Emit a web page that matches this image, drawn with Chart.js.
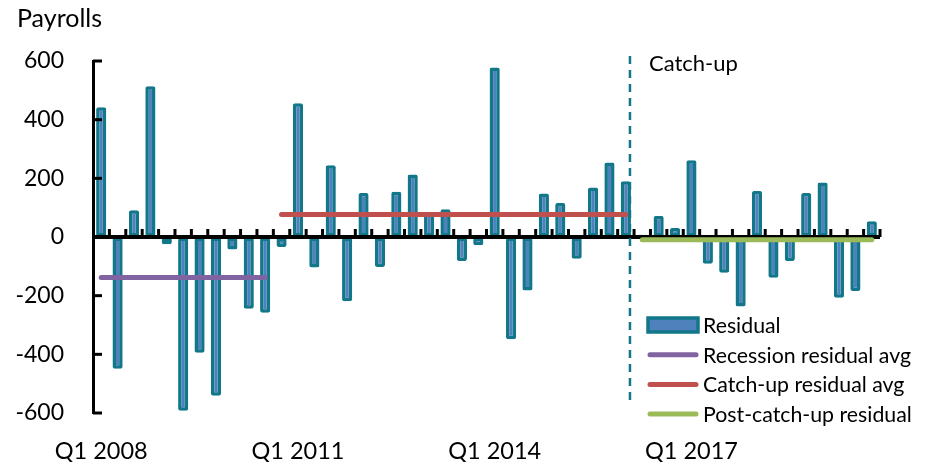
<!DOCTYPE html>
<html lang="en">
<head>
<meta charset="UTF-8" />
<title>Payroll residuals</title>
<style>
  html, body { margin: 0; padding: 0; background: #fff; }
  .box { width: 932px; height: 462px; position: relative; }
</style>
</head>
<body>
<div class="box"><canvas id="resid"></canvas></div>
<script src="https://cdn.jsdelivr.net/npm/chart.js"></script>
<script>
const years = [2008, 2009, 2010, 2011, 2012, 2013, 2014, 2015, 2016, 2017, 2018, 2019];
const quarters = [];
years.forEach(y => { for (let q = 1; q <= 4; q++) quarters.push("Q" + q + " " + y); });

const xTickLabels = ["Q1 2008", "Q1 2011", "Q1 2014", "Q1 2017"];
const yTicks = [-600, -400, -200, 0, 200, 400, 600];

const residual = [
  442, -449, 91, 514, -25, -592, -395, -541, -43, -245, -258, -34,
  456, -104, 245, -219, 150, -102, 154, 213, 80, 95, -82, -28,
  578, -349, -182, 148, 116, -74, 169, 254, 190, 8, 72, 31,
  262, -91, -122, -237, 157, -139, -82, 150, 186, -207, -184, 54
];

// averages and the quarters they cover
const recessionAvg = -138, recessionFrom = 0, recessionTo = 10;
const catchupAvg = 77, catchupFrom = 11, catchupTo = 32;
const postAvg = -9, postFrom = 33, postTo = 47;
const catchupMark = 32.25; // position of the dashed "Catch-up" marker

function span(v, a, b) {
  return quarters.map((_, i) => (i >= a && i <= b ? v : null));
}

const FONT = "Lato, 'Open Sans', sans-serif";
const TEAL = "#127789";

const extras = {
  id: "extras",
  afterDatasetDraw(chart, args) {
    if (args.index !== 0) return;
    const { ctx, chartArea: a, scales: { x, y } } = chart;
    const y0 = y.getPixelForValue(0);
    ctx.save();
    ctx.strokeStyle = "#000";
    ctx.lineWidth = 4;
    ctx.beginPath();
    ctx.moveTo(a.left, y0);
    ctx.lineTo(a.right, y0);
    ctx.stroke();
    ctx.lineWidth = 3;
    for (let i = 0; i < quarters.length; i++) {
      const px = x.getPixelForValue(i + 0.5);
      ctx.beginPath();
      ctx.moveTo(px, y0);
      ctx.lineTo(px, y0 - 8);
      ctx.stroke();
    }
    ctx.restore();
  },
  afterDraw(chart) {
    const { ctx, chartArea: a, scales: { x, y } } = chart;
    ctx.save();
    // inner ticks on the y axis
    ctx.strokeStyle = "#000";
    ctx.lineWidth = 3;
    yTicks.forEach(v => {
      if (v === 0) return;
      const py = y.getPixelForValue(v);
      ctx.beginPath();
      ctx.moveTo(a.left, py);
      ctx.lineTo(a.left + 9, py);
      ctx.stroke();
    });
    // dashed marker
    const mx = x.getPixelForValue(catchupMark);
    ctx.strokeStyle = TEAL;
    ctx.lineWidth = 2.5;
    ctx.setLineDash([8, 6]);
    ctx.beginPath();
    ctx.moveTo(mx, a.top - 5);
    ctx.lineTo(mx, a.bottom - 11);
    ctx.stroke();
    ctx.setLineDash([]);

    ctx.fillStyle = "#000";
    ctx.textBaseline = "middle";
    ctx.textAlign = "left";
    ctx.font = "22px " + FONT;
    ctx.fillText("Catch-up", mx + 19, a.top + 3);

    ctx.font = "25px " + FONT;
    ctx.fillText("Payrolls", 17, 19);

    // legend
    const ds = chart.data.datasets;
    const lx = 648, lw = 50, rowH = 29.7, ly = 325;
    ctx.font = "21.3px " + FONT;
    ds.forEach((d, i) => {
      const cy = ly + i * rowH;
      if (i === 0) {
        ctx.fillStyle = d.backgroundColor;
        ctx.strokeStyle = d.borderColor;
        ctx.lineWidth = 3.5;
        ctx.fillRect(lx, cy - 7, lw, 14);
        ctx.strokeRect(lx, cy - 7, lw, 14);
      } else {
        ctx.strokeStyle = d.borderColor;
        ctx.lineWidth = 5;
        ctx.lineCap = "round";
        ctx.beginPath();
        ctx.moveTo(lx + 2, cy);
        ctx.lineTo(lx + lw - 2, cy);
        ctx.stroke();
      }
      ctx.fillStyle = "#000";
      ctx.fillText(d.label, lx + lw + 5, cy + 1);
    });
    ctx.restore();
  }
};

const lineStyle = (color) => ({
  type: "line",
  borderColor: color,
  backgroundColor: color,
  borderWidth: 5,
  borderCapStyle: "round",
  pointRadius: 0,
  spanGaps: false,
  order: 1
});

new Chart(document.getElementById("resid"), {
  data: {
    labels: quarters,
    datasets: [
      {
        type: "bar",
        label: "Residual",
        data: residual,
        backgroundColor: "#4F81BD",
        borderColor: TEAL,
        borderWidth: 3.5,
        borderSkipped: false,
        borderRadius: 2,
        barPercentage: 0.62,
        categoryPercentage: 1,
        order: 10
      },
      Object.assign(lineStyle("#8064A2"), { label: "Recession residual avg", data: span(recessionAvg, recessionFrom, recessionTo) }),
      Object.assign(lineStyle("#C0504D"), { label: "Catch-up residual avg", data: span(catchupAvg, catchupFrom, catchupTo) }),
      Object.assign(lineStyle("#9BBB59"), { label: "Post-catch-up residual", data: span(postAvg, postFrom, postTo) })
    ]
  },
  options: {
    responsive: true,
    maintainAspectRatio: false,
    animation: false,
    layout: { padding: { top: 61, right: 52, bottom: 0, left: 0 } },
    plugins: {
      legend: { display: false },
      tooltip: { enabled: false }
    },
    scales: {
      x: {
        type: "category",
        offset: true,
        grid: { display: false, drawTicks: false },
        border: { display: false },
        ticks: {
          autoSkip: false,
          maxRotation: 0,
          padding: 24,
          color: "#000",
          font: { family: FONT, size: 23.5 },
          callback: function (val) {
            const l = this.getLabelForValue(val);
            return xTickLabels.includes(l) ? l : "";
          }
        },
        afterFit: (s) => { s.height = 49; }
      },
      y: {
        min: -600,
        max: 600,
        grid: { drawOnChartArea: false, drawTicks: false },
        border: { color: "#000", width: 3 },
        ticks: {
          stepSize: 200,
          padding: 29,
          color: "#000",
          font: { family: FONT, size: 23 }
        },
        afterFit: (s) => { s.width = 93; }
      }
    }
  },
  plugins: [extras]
});
</script>
</body>
</html>
